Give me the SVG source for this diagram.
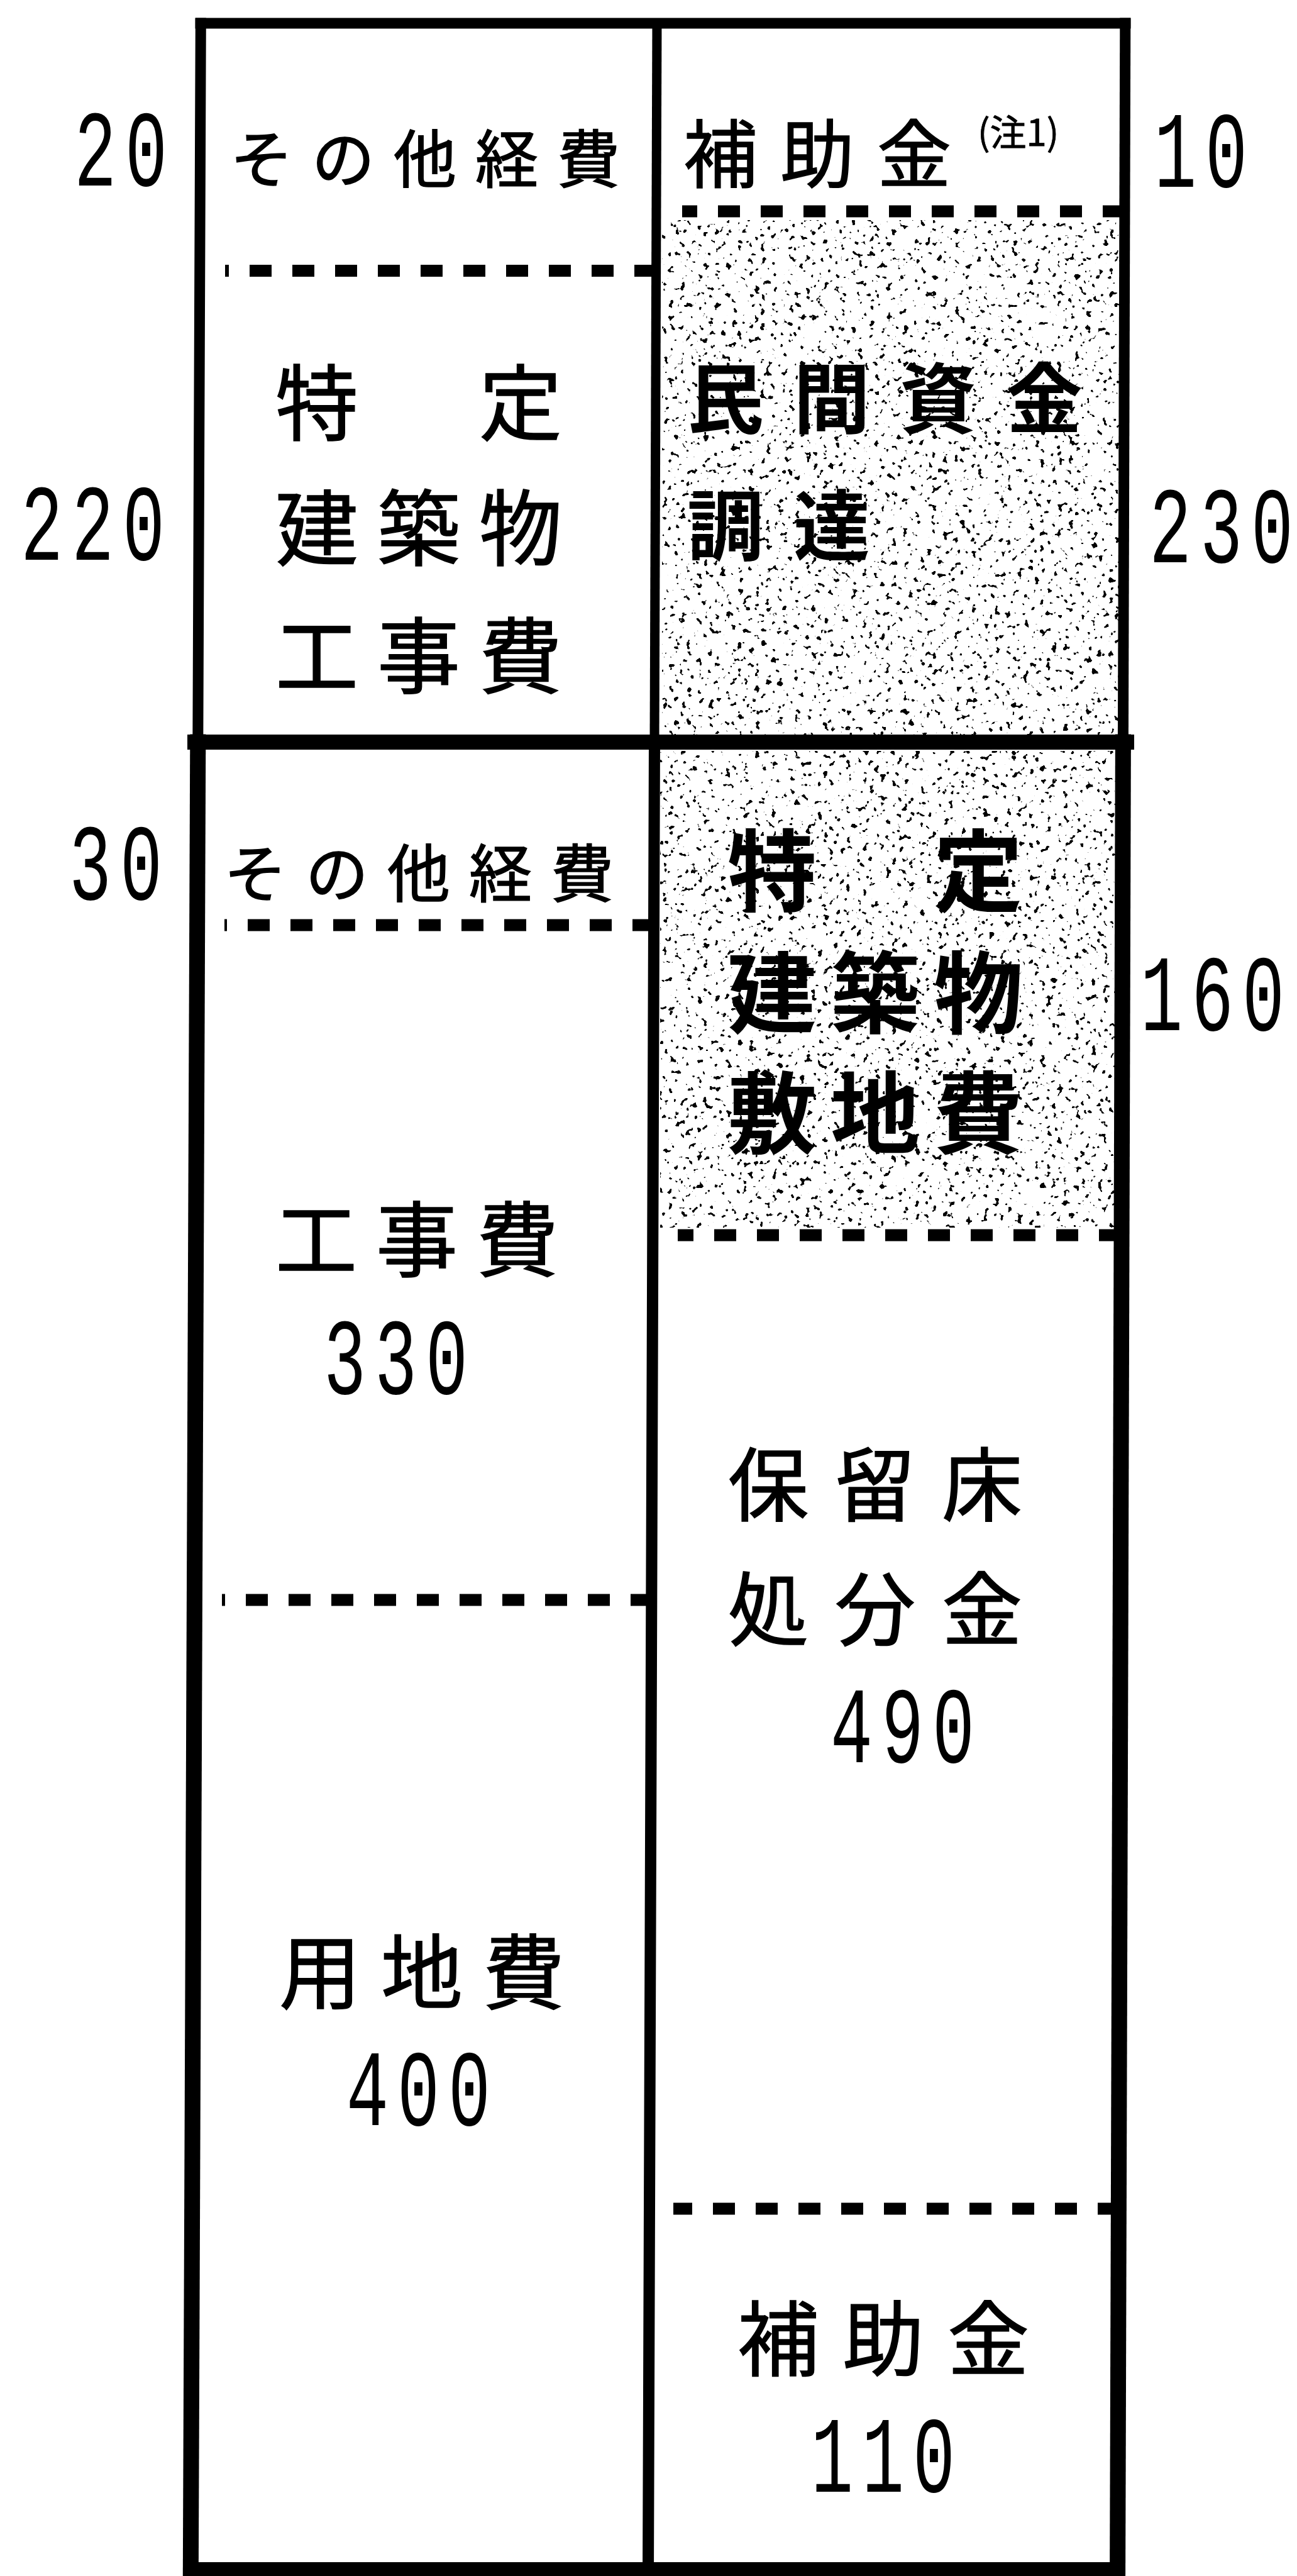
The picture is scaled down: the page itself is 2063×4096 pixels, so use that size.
<svg xmlns="http://www.w3.org/2000/svg" width="2063" height="4096" viewBox="0 0 2063 4096">
<defs>
<style>
.jp{font-family:"Noto Sans CJK JP","Noto Sans CJK SC",sans-serif;fill:#000;stroke:#000;stroke-width:1.5px;}
.b{font-weight:bold;stroke-width:0;}
.num{font-family:"Liberation Mono","DejaVu Sans Mono",monospace;font-size:172px;fill:#000;}
.dash{stroke:#000;stroke-width:19;stroke-dasharray:35 33;fill:none;}
.fr{stroke:#000;fill:none;stroke-linecap:square;}
</style>
<filter id="speckle" filterUnits="objectBoundingBox" x="0" y="0" width="1" height="1">
<feTurbulence type="fractalNoise" baseFrequency="0.11" numOctaves="2" seed="7" result="n"/>
<feColorMatrix in="n" type="matrix" values="0 0 0 0 0  0 0 0 0 0  0 0 0 0 0  26 0 0 0 -16.9" result="m"/>
<feComposite in="m" in2="SourceGraphic" operator="in"/>
</filter>
</defs>
<rect x="0" y="0" width="2063" height="4096" fill="#fff"/>

<g id="shading">
<rect x="1053" y="350" width="728" height="818" fill="#fff" filter="url(#speckle)"/>
<rect x="1050" y="1194" width="725" height="758" fill="#fff" filter="url(#speckle)"/>
</g>

<g id="frame">
<line class="fr" x1="319.3" y1="37" x2="314.8" y2="1180" stroke-width="17"/>
<line class="fr" x1="1789.8" y1="37" x2="1786.4" y2="1180" stroke-width="17"/>
<line class="fr" x1="1045" y1="37" x2="1041" y2="1180" stroke-width="15"/>
<line class="fr" x1="319" y1="37" x2="1790" y2="37" stroke-width="17"/>
<line class="fr" x1="310" y1="1180" x2="1792" y2="1180" stroke-width="24"/>
<line class="fr" x1="314.8" y1="1180" x2="303.3" y2="4096" stroke-width="25"/>
<line class="fr" x1="1786.4" y1="1180" x2="1777.6" y2="4096" stroke-width="25"/>
<line class="fr" x1="1041" y1="1180" x2="1031" y2="4096" stroke-width="18"/>
<line class="fr" x1="303" y1="4086" x2="1778" y2="4086" stroke-width="24"/>
</g>

<g id="dividers">
<path class="dash" d="M1044,430.5 H358"/>
<path class="dash" d="M1789,336 H1085"/>
<path class="dash" d="M1041,1471 H357"/>
<path class="dash" d="M1038,2544 H353"/>
<path class="dash" d="M1783,1964 H1078"/>
<path class="dash" d="M1781,3512 H1071"/>
</g>

<g id="cost-other-1">
<text class="jp" x="366" y="290" font-size="100" letter-spacing="30">その他経費</text>
</g>
<g id="cost-building">
<text class="jp" x="438" y="690" font-size="132" letter-spacing="30">特　定</text>
<text class="jp" x="438" y="889" font-size="132" letter-spacing="30">建築物</text>
<text class="jp" x="438" y="1092" font-size="132" letter-spacing="30">工事費</text>
</g>
<g id="fund-subsidy-1">
<text class="jp" x="1087" y="289" font-size="118" letter-spacing="36">補助金</text>
<text class="jp" x="1555" y="232" font-size="58" style="stroke-width:0.8px">(注1)</text>
</g>
<g id="fund-private">
<text class="jp b" x="1093" y="679" font-size="122" letter-spacing="47">民間資金</text>
<text class="jp b" x="1093" y="881" font-size="122" letter-spacing="47">調達</text>
</g>
<g id="cost-other-2">
<text class="jp" x="356" y="1426" font-size="100" letter-spacing="30">その他経費</text>
</g>
<g id="cost-construction">
<text class="jp" x="438" y="2019" font-size="130" letter-spacing="30">工事費</text>
<text class="num" transform="translate(515,2216) scale(0.65,1)" x="0 124.6 249.2">330</text>
</g>
<g id="cost-land">
<text class="jp" x="444" y="3184" font-size="130" letter-spacing="32">用地費</text>
<text class="num" transform="translate(551,3379) scale(0.65,1)" x="0 124.6 249.2">400</text>
</g>
<g id="fund-site">
<text class="jp b" x="1157" y="1438" font-size="142" letter-spacing="22">特　定</text>
<text class="jp b" x="1157" y="1632" font-size="142" letter-spacing="22">建築物</text>
<text class="jp b" x="1157" y="1823" font-size="142" letter-spacing="22">敷地費</text>
</g>
<g id="fund-floor">
<text class="jp" x="1158" y="2409" font-size="128" letter-spacing="42">保留床</text>
<text class="jp" x="1158" y="2607" font-size="128" letter-spacing="42">処分金</text>
<text class="num" transform="translate(1321,2802) scale(0.65,1)" x="0 124.6 249.2">490</text>
</g>
<g id="fund-subsidy-2">
<text class="jp" x="1173" y="3767" font-size="130" letter-spacing="37">補助金</text>
<text class="num" transform="translate(1290,3962) scale(0.65,1)" x="0 124.6 249.2">110</text>
</g>

<g id="side-values">
<text class="num" transform="translate(118,295) scale(0.65,1)" x="0 124.6">20</text>
<text class="num" transform="translate(33,890) scale(0.65,1)" x="0 124.6 249.2">220</text>
<text class="num" transform="translate(110,1430) scale(0.65,1)" x="0 124.6">30</text>
<text class="num" transform="translate(1836,297) scale(0.65,1)" x="0 124.6">10</text>
<text class="num" transform="translate(1828,894) scale(0.65,1)" x="0 124.6 249.2">230</text>
<text class="num" transform="translate(1814,1638) scale(0.65,1)" x="0 124.6 249.2">160</text>
</g>
</svg>
